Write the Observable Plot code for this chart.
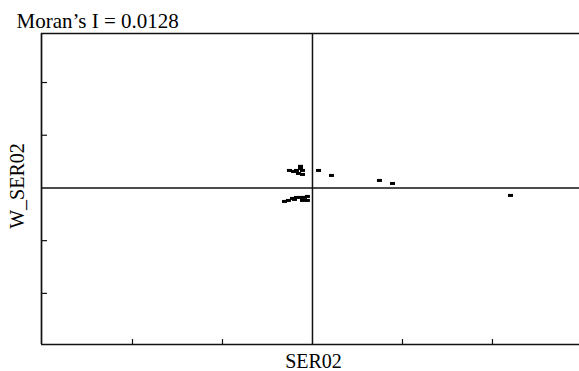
<!DOCTYPE html>
<html>
<head>
<meta charset="utf-8">
<script src="https://cdn.jsdelivr.net/npm/d3@7"></script>
<script src="https://cdn.jsdelivr.net/npm/@observablehq/plot@0.6"></script>
<style>
  html, body { margin: 0; padding: 0; background: #fff; }
  svg { display: block; }
</style>
</head>
<body>
<div id="chart"></div>
<script>
const titleText = "Moran’s I = 0.0128";
const xLabel = "SER02";
const yLabel = "W_SER02";
const xTicks = [-2, -1, 1, 2];
const yTicks = [-2, -1, 1, 2];
const xDomain = [-3.011, 2.967];
const yDomain = [-2.97, 2.93];

const serX = [-0.256, -0.211, -0.178, -0.133, -0.111, -0.156, -0.111, -0.133,
              0.067, 0.211, 0.744, 0.889, 2.2,
              -0.311, -0.267, -0.222, -0.178, -0.133, -0.089, -0.056, -0.056, -0.111, -0.2];
const wSerY = [0.332, 0.313, 0.332, 0.370, 0.332, 0.275, 0.256, 0.41,
               0.332, 0.237, 0.142, 0.085, -0.142,
               -0.256, -0.237, -0.199, -0.180, -0.180, -0.180, -0.161, -0.237, -0.237, -0.218];

const points = serX.map((x, i) => ({x, y: wSerY[i]}));

const dash = { draw(ctx) { ctx.rect(-2.5, -1.5, 5, 3); } };
const font = "'Liberation Serif', 'Times New Roman', serif";
const ink = "#111";

const chart = Plot.plot({
  width: 579,
  height: 371,
  marginLeft: 41,
  marginRight: 0,
  marginTop: 33,
  marginBottom: 27,
  style: { fontFamily: font, background: "#fff" },
  x: { domain: xDomain, axis: null },
  y: { domain: yDomain, axis: null },
  marks: [
    Plot.ruleX([xDomain[0]], { stroke: ink, strokeWidth: 1.7 }),
    Plot.ruleY([yDomain[0], yDomain[1]], { stroke: ink, strokeWidth: 1.7 }),
    Plot.ruleX([0], { stroke: ink, strokeWidth: 1.5 }),
    Plot.ruleY([0], { stroke: ink, strokeWidth: 1.5 }),
    Plot.axisX({ anchor: "bottom", ticks: xTicks, tickSize: 5, dy: -5, tickFormat: () => "", stroke: ink, strokeWidth: 1.2, label: null }),
    Plot.axisY({ anchor: "left", ticks: yTicks, tickSize: 6, dx: 6, tickFormat: () => "", stroke: ink, strokeWidth: 1.2, label: null }),
    Plot.dot(points, { x: "x", y: "y", symbol: dash, fill: "#000", stroke: "none" }),
    Plot.text([titleText], { frameAnchor: "top-left", dx: -25, dy: -6, lineAnchor: "bottom", textAnchor: "start", fontSize: 21, fill: "#000" }),
    Plot.text([xLabel], { frameAnchor: "bottom", dx: 3, dy: 23, lineAnchor: "bottom", textAnchor: "middle", fontSize: 20, fill: "#000" }),
    Plot.text([yLabel], { frameAnchor: "left", rotate: -90, dx: -18, dy: -3, lineAnchor: "bottom", textAnchor: "middle", fontSize: 20, fill: "#000" })
  ]
});
document.getElementById("chart").appendChild(chart);
</script>
</body>
</html>
